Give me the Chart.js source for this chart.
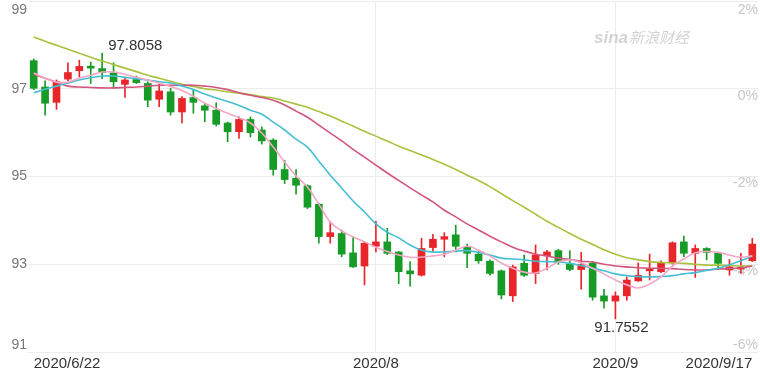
<!DOCTYPE html>
<html>
<head>
<meta charset="utf-8">
<script src="https://cdn.jsdelivr.net/npm/chart.js@4/dist/chart.umd.min.js"></script>
<style>
html, body { margin: 0; padding: 0; background: #fff; }
#wrap { width: 760px; height: 370px; }
</style>
</head>
<body>
<div id="wrap"><canvas id="kChart" width="760" height="370"></canvas></div>
<script>
// 日K数据 2020/6/22 - 2020/9/17
const dates = [
    '6/22','6/23','6/24','6/25','6/26','6/29','6/30',
    '7/1','7/2','7/3','7/6','7/7','7/8','7/9','7/10','7/13','7/14','7/15','7/16','7/17',
    '7/20','7/21','7/22','7/23','7/24','7/27','7/28','7/29','7/30','7/31',
    '8/3','8/4','8/5','8/6','8/7','8/10','8/11','8/12','8/13','8/14','8/17','8/18','8/19',
    '8/20','8/21','8/24','8/25','8/26','8/27','8/28','8/31',
    '9/1','9/2','9/3','9/4','9/7','9/8','9/9','9/10','9/11','9/14','9/15','9/16','9/17'
];
const openP = [
    97.64, 97.04, 96.69, 97.22, 97.41, 97.49, 97.46, 97.36, 97.10, 97.21,
    97.12, 96.76, 96.93, 96.47, 96.80, 96.61, 96.51, 96.22, 96.02, 96.30,
    96.06, 95.83, 95.16, 94.96, 94.79, 94.37, 93.63, 93.70, 93.26, 92.96,
    93.41, 93.51, 93.28, 92.85, 92.75, 93.38, 93.57, 93.67, 93.40, 93.23,
    93.07, 92.85, 92.28, 93.02, 92.79, 93.19, 93.31, 93.00, 92.88, 93.02,
    92.28, 92.16, 92.28, 92.62, 92.85, 92.83, 93.03, 93.51, 93.25, 93.36,
    93.25, 92.87, 92.89, 93.08
];
const highP = [
    97.68, 97.18, 97.20, 97.59, 97.65, 97.61, 97.8058, 97.59, 97.26, 97.29,
    97.16, 97.10, 97.01, 96.82, 96.97, 96.67, 96.68, 96.24, 96.36, 96.36,
    96.13, 95.86, 95.37, 95.16, 94.81, 94.39, 93.98, 93.78, 93.63, 93.51,
    93.98, 93.82, 93.29, 93.06, 93.59, 93.68, 93.72, 93.89, 93.46, 93.32,
    93.10, 92.87, 92.98, 93.21, 93.44, 93.32, 93.34, 93.31, 93.27, 93.06,
    92.43, 92.37, 92.71, 93.03, 93.23, 93.08, 93.51, 93.64, 93.44, 93.38,
    93.28, 93.11, 93.25, 93.59
];
const lowP = [
    96.98, 96.40, 96.53, 97.18, 97.27, 97.12, 97.23, 97.01, 96.80, 97.12,
    96.59, 96.59, 96.40, 96.22, 96.44, 96.25, 96.15, 95.79, 95.87, 95.90,
    95.74, 95.03, 94.84, 94.60, 94.27, 93.48, 93.48, 93.17, 92.93, 92.53,
    93.28, 93.22, 92.56, 92.50, 92.73, 93.28, 93.17, 93.28, 92.92, 93.02,
    92.75, 92.21, 92.15, 92.72, 92.56, 92.87, 93.00, 92.85, 92.43, 92.18,
    92.00, 91.7552, 92.18, 92.61, 92.64, 92.81, 93.00, 93.17, 92.70, 93.10,
    92.88, 92.75, 92.79, 93.06
];
const closeP = [
    97.01, 96.67, 97.16, 97.37, 97.51, 97.47, 97.37, 97.16, 97.20, 97.14,
    96.74, 96.95, 96.47, 96.78, 96.69, 96.51, 96.19, 96.02, 96.30, 96.00,
    95.81, 95.16, 94.93, 94.80, 94.30, 93.63, 93.72, 93.23, 92.94, 93.48,
    93.51, 93.25, 92.83, 92.78, 93.36, 93.57, 93.63, 93.41, 93.25, 93.08,
    92.79, 92.30, 92.94, 92.75, 93.21, 93.28, 93.04, 92.88, 93.00, 92.25,
    92.16, 92.28, 92.64, 92.75, 92.88, 93.03, 93.49, 93.25, 93.36, 93.27,
    93.02, 92.94, 92.94, 93.46
];

// 均线
const ma5 = [
    97.36, 97.24, 97.15, 97.15, 97.24, 97.31, 97.38, 97.38, 97.33, 97.26,
    97.20, 97.13, 97.05, 96.96, 96.83, 96.67, 96.55, 96.44, 96.34, 96.22,
    95.99, 95.67, 95.33, 95.01, 94.76, 94.37, 93.96, 93.76, 93.62, 93.51,
    93.39, 93.29, 93.21, 93.16, 93.16, 93.19, 93.23, 93.32, 93.41, 93.32,
    93.19, 93.03, 92.91, 92.82, 92.80, 92.91, 93.05, 93.10, 93.03, 92.91,
    92.78, 92.64, 92.53, 92.46, 92.55, 92.71, 92.96, 93.12, 93.26, 93.29,
    93.27, 93.21, 93.16, 93.19
];
const ma10 = [
    96.91, 96.99, 97.06, 97.13, 97.20, 97.25, 97.29, 97.29, 97.26, 97.23,
    97.20, 97.16, 97.13, 97.06, 96.98, 96.88, 96.79, 96.71, 96.62, 96.51,
    96.42, 96.24, 96.06, 95.85, 95.67, 95.35, 95.03, 94.74, 94.44, 94.19,
    93.92, 93.73, 93.60, 93.44, 93.32, 93.28, 93.28, 93.30, 93.31, 93.27,
    93.21, 93.14, 93.12, 93.10, 93.07, 93.06, 93.05, 93.02, 92.97, 92.91,
    92.85, 92.78, 92.74, 92.72, 92.71, 92.72, 92.74, 92.78, 92.81, 92.86,
    92.91, 92.99, 93.08, 93.19
];
const ma20 = [
    97.33, 97.24, 97.15, 97.06, 97.04, 97.03, 97.02, 97.02, 97.03, 97.04,
    97.06, 97.08, 97.08, 97.08, 97.08, 97.06, 97.03, 96.98, 96.91, 96.85,
    96.80, 96.74, 96.63, 96.49, 96.35, 96.17, 95.99, 95.81, 95.62, 95.44,
    95.26, 95.08, 94.91, 94.74, 94.58, 94.42, 94.23, 94.08, 93.92, 93.78,
    93.64, 93.51, 93.39, 93.30, 93.23, 93.19, 93.14, 93.11, 93.07, 93.05,
    93.00, 92.96, 92.94, 92.92, 92.91, 92.91, 92.90, 92.88, 92.87, 92.87,
    92.89, 92.90, 92.92, 92.96
];
const ma30 = [
    98.18, 98.08, 97.99, 97.90, 97.81, 97.72, 97.63, 97.55, 97.47, 97.39,
    97.31, 97.24, 97.17, 97.10, 97.05, 97.00, 96.97, 96.93, 96.90, 96.87,
    96.82, 96.79, 96.72, 96.65, 96.58, 96.48, 96.38, 96.26, 96.15, 96.03,
    95.92, 95.81, 95.69, 95.59, 95.49, 95.39, 95.28, 95.16, 95.03, 94.91,
    94.77, 94.61, 94.45, 94.30, 94.14, 93.98, 93.84, 93.70, 93.57, 93.45,
    93.33, 93.23, 93.15, 93.10, 93.06, 93.04, 93.03, 93.02, 93.00, 92.98,
    92.98, 92.97, 92.96, 92.96
];

// 坐标轴刻度
const xTickIdx = [0, 30, 51, 63];
const xTickText = ['2020/6/22', '2020/8', '2020/9', '2020/9/17'];
const yTicks = [91, 93, 95, 97, 99];
const pctTicks = ['-6%', '-4%', '-2%', '0%', '2%'];

const UP = '#e8262a';
const DOWN = '#169c26';
const FONT = '"Liberation Sans", Arial, sans-serif';

const candleColors = closeP.map((c, i) => c >= openP[i] ? UP : DOWN);

// 左右刻度文字 + 水印
const axisText = {
    id: 'axisText',
    beforeDatasetsDraw(chart) {
        const { ctx, chartArea: a, scales: { y } } = chart;
        ctx.save();
        ctx.font = '14px ' + FONT;
        ctx.textBaseline = 'middle';
        yTicks.forEach((v, k) => {
            const py = y.getPixelForValue(v);
            ctx.fillStyle = '#777';
            ctx.textAlign = 'right';
            ctx.fillText(String(v), a.left - 1, Math.min(Math.max(py, a.top + 9), a.bottom - 7));
            ctx.fillStyle = '#c6c6c6';
            ctx.fillText(pctTicks[k], a.right, Math.min(Math.max(py + 7, a.top + 9), a.bottom - 7));
        });

        // sina 新浪财经
        ctx.fillStyle = '#d3d3d3';
        ctx.textAlign = 'left';
        ctx.font = 'bold italic 17px ' + FONT;
        ctx.fillText('sina', 594, 38);
        ctx.font = 'italic 15px "Noto Sans CJK SC", sans-serif';
        ctx.fillText('新浪财经', 629, 37);
        ctx.restore();
    },
    afterDatasetsDraw(chart) {
        const { ctx, scales: { x, y } } = chart;
        const hi = Math.max(...highP);
        const lo = Math.min(...lowP);
        const hiIdx = highP.indexOf(hi);
        const loIdx = lowP.indexOf(lo);
        ctx.save();
        ctx.font = '15px ' + FONT;
        ctx.fillStyle = '#333';
        ctx.textBaseline = 'middle';
        ctx.textAlign = 'left';
        ctx.fillText(hi.toFixed(4), x.getPixelForValue(hiIdx) + 6, y.getPixelForValue(hi) - 8);
        ctx.textAlign = 'center';
        ctx.fillText(lo.toFixed(4), x.getPixelForValue(loIdx) + 6, y.getPixelForValue(lo) + 9);
        ctx.restore();
    }
};

function maLine(data, color) {
    return {
        type: 'line',
        data: data,
        borderColor: color,
        borderWidth: 1.6,
        pointRadius: 0,
        tension: 0.4,
        order: 0
    };
}

new Chart(document.getElementById('kChart'), {
    type: 'bar',
    data: {
        labels: dates,
        datasets: [
            maLine(ma5, '#f2a7c6'),
            maLine(ma10, '#45bfd2'),
            maLine(ma20, '#d2557e'),
            maLine(ma30, '#a8c23c'),
            {
                data: openP.map((o, i) => [o, closeP[i]]),
                backgroundColor: candleColors,
                barThickness: 7,
                minBarLength: 2,
                grouped: false,
                order: 1
            },
            {
                data: lowP.map((l, i) => [l, highP[i]]),
                backgroundColor: candleColors,
                barThickness: 1,
                grouped: false,
                order: 2
            }
        ]
    },
    options: {
        responsive: false,
        animation: false,
        layout: { padding: { left: 28, right: 2, top: 1, bottom: 0 } },
        plugins: {
            legend: { display: false },
            tooltip: { enabled: false }
        },
        scales: {
            x: {
                offset: true,
                afterBuildTicks: s => { s.ticks = xTickIdx.map(v => ({ value: v })); },
                afterFit: s => { s.height = 18; },
                grid: {
                    offset: false,
                    drawTicks: false,
                    color: c => (c.index === 1 || c.index === 2) ? '#ececec' : 'transparent'
                },
                border: { display: false },
                ticks: {
                    autoSkip: false,
                    maxRotation: 0,
                    align: 'inner',
                    padding: 3,
                    color: '#333',
                    font: { size: 15, family: FONT },
                    callback: (v, i) => xTickText[i]
                }
            },
            y: {
                min: 91,
                max: 99,
                grid: { color: '#ececec', drawTicks: false },
                border: { display: false },
                ticks: { stepSize: 2, display: false }
            }
        }
    },
    plugins: [axisText]
});
</script>
</body>
</html>
